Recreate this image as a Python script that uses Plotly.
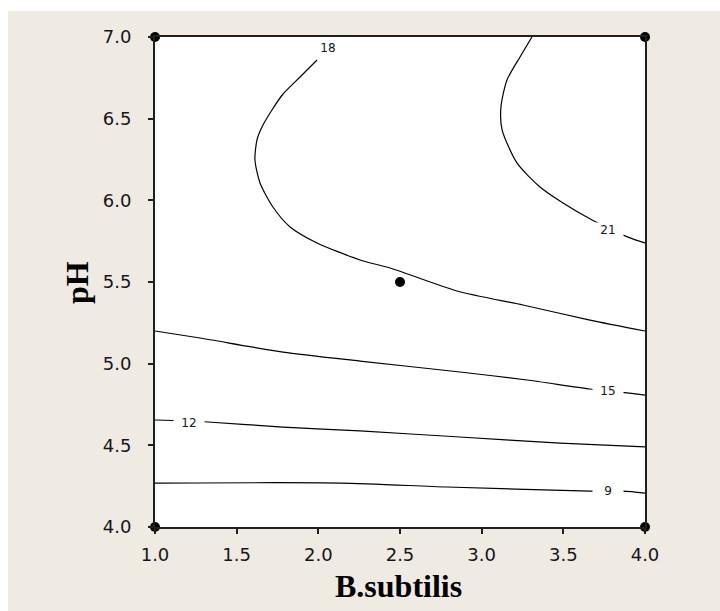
import plotly.graph_objects as go

# Contour lines of the response (B.subtilis vs pH), traced as x/y polylines
c18_x = [1.992, 1.888, 1.784, 1.716, 1.655, 1.624, 1.612, 1.643, 1.722, 1.827, 1.992, 2.255, 2.439, 2.849, 3.253, 3.663, 4.0]
c18_y = [6.859, 6.755, 6.651, 6.553, 6.449, 6.369, 6.247, 6.106, 5.959, 5.837, 5.739, 5.635, 5.586, 5.445, 5.359, 5.267, 5.200]

c21_x = [3.308, 3.235, 3.155, 3.118, 3.125, 3.216, 3.357, 3.498, 3.676, 3.896, 4.0]
c21_y = [7.0, 6.878, 6.737, 6.571, 6.431, 6.229, 6.082, 5.984, 5.880, 5.775, 5.739]

c15_x = [1.0, 1.276, 1.784, 2.255, 2.867, 3.278, 3.663, 3.902, 4.0]
c15_y = [5.200, 5.157, 5.071, 5.016, 4.949, 4.900, 4.845, 4.820, 4.808]

c12_x = [1.0, 1.324, 1.784, 2.255, 2.867, 3.480, 4.0]
c12_y = [4.655, 4.643, 4.612, 4.588, 4.551, 4.514, 4.490]

c9_x = [1.0, 2.133, 2.788, 3.663, 3.865, 4.0]
c9_y = [4.269, 4.269, 4.245, 4.220, 4.220, 4.208]

contours = [(c9_x, c9_y), (c12_x, c12_y), (c15_x, c15_y), (c18_x, c18_y), (c21_x, c21_y)]

# Contour level labels
label_text = ["18", "21", "15", "12", "9"]
label_x = [2.059, 3.773, 3.773, 1.208, 3.773]
label_y = [6.933, 5.818, 4.833, 4.637, 4.220]

# Design points (factorial corners + centre point)
pts_x = [1.0, 1.0, 4.0, 4.0, 2.5]
pts_y = [4.0, 7.0, 4.0, 7.0, 5.5]

x_ticks = [1.0, 1.5, 2.0, 2.5, 3.0, 3.5, 4.0]
y_ticks = [4.0, 4.5, 5.0, 5.5, 6.0, 6.5, 7.0]

BEIGE = "#EFEBE2"
INK = "#151520"

fig = go.Figure()

for cx, cy in contours:
    fig.add_trace(go.Scatter(
        x=cx, y=cy, mode="lines",
        line=dict(color="black", width=1.2, shape="spline", smoothing=0.7),
        hoverinfo="skip", showlegend=False, cliponaxis=True,
    ))

fig.add_trace(go.Scatter(
    x=pts_x, y=pts_y, mode="markers",
    marker=dict(color="black", size=10),
    cliponaxis=False, showlegend=False,
))

for t, lx, ly in zip(label_text, label_x, label_y):
    fig.add_annotation(
        x=lx, y=ly, xref="x", yref="y", text=t, showarrow=False,
        font=dict(family="DejaVu Sans", size=12, color=INK),
        bgcolor="white", width=30, height=14, borderpad=0,
    )

# Axis titles
fig.add_annotation(
    x=(398 - 155) / 490, y=(527 - 586) / 490, xref="paper", yref="paper",
    text="<b>B.subtilis</b>", showarrow=False, xanchor="center", yanchor="middle",
    font=dict(family="Liberation Serif", size=32, color="black"),
)
fig.add_annotation(
    x=(77 - 155) / 490, y=(527 - 283) / 490, xref="paper", yref="paper",
    text="<b>pH</b>", showarrow=False, textangle=-90, xanchor="center", yanchor="middle",
    font=dict(family="Liberation Serif", size=32, color="black"),
)

# White strips along the top and left edges of the page
fig.add_shape(type="rect", xref="paper", yref="paper", layer="below",
              x0=-1, x1=2, y0=(527 - 11) / 490, y1=2, fillcolor="white", line_width=0)
fig.add_shape(type="rect", xref="paper", yref="paper", layer="below",
              x0=-1, x1=(8 - 155) / 490, y0=-1, y1=2, fillcolor="white", line_width=0)

axis_common = dict(
    showgrid=False, zeroline=False, showline=True, mirror=True,
    linecolor="#202020", linewidth=1.8,
    ticks="outside", ticklen=5, tickwidth=1.5, tickcolor="#202020",
    tickfont=dict(family="DejaVu Sans", size=18, color=INK),
)

fig.update_xaxes(range=[1, 4], tickvals=x_ticks, ticktext=[f"{v:.1f}" for v in x_ticks],
                 ticklabelstandoff=5, **axis_common)
fig.update_yaxes(range=[4, 7], tickvals=y_ticks, ticktext=[f"{v:.1f}" for v in y_ticks],
                 ticklabelstandoff=13, **axis_common)

fig.update_layout(
    width=720, height=611,
    margin=dict(l=155, r=75, t=37, b=84),
    paper_bgcolor=BEIGE, plot_bgcolor="white",
    showlegend=False,
)

fig.write_html("out.html")
